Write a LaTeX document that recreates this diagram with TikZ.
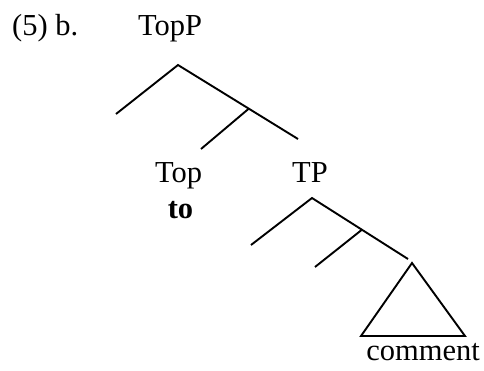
\documentclass[tikz,border=0pt]{standalone}
\usepackage{fontspec}
\setmainfont{Liberation Serif}
\usepackage{tikz}
\usetikzlibrary{calc,positioning}
\tikzstyle{branch} = [line width=1.9pt]
\tikzstyle{cat} = [inner sep=0pt, anchor=base, font=\fontsize{30.5}{36}\selectfont]
\tikzstyle{word} = [cat, font=\fontsize{30.5}{36}\selectfont\bfseries]

\begin{document}
\begin{tikzpicture}[x=1pt,y=-1pt]
\useasboundingbox (0,0) rectangle (484,370);

\node(ExNum)		[cat, anchor=base west] at (12,35)
								{(5) b.};
\node(TopP)			[cat] at (170,35)
								{TopP};
\node(Top)			[cat] at (178.5,182)
								{Top};
\node(TopWord)		[word] at (180.5,218)
								{to};
\node(TP)			[cat] at (310,182)
								{TP};
\node(Comment)		[cat] at (423,360)
								{comment};

% TopP branches
\coordinate(TopPRoot)	at (178,65);
\coordinate(TopPSpec)	at (116,114);
\coordinate(TopPBar)	at (298,139);
\coordinate(TopPJoin)	at ($(TopPRoot)!0.59!(TopPBar)$);
\coordinate(TopHead)	at (201,149);

% TP branches
\coordinate(TPRoot)		at (312,198);
\coordinate(TPSpec)		at (251,245);
\coordinate(TPBar)		at (408,259);
\coordinate(TPJoin)		at ($(TPRoot)!0.52!(TPBar)$);
\coordinate(THead)		at (315,267);

% comment triangle
\coordinate(TriTop)		at (412,263);
\coordinate(TriLeft)	at (361,336);
\coordinate(TriRight)	at (465,336);

\draw [branch]	(TopPSpec) -- (TopPRoot) -- (TopPBar);
\draw [branch]	(TopPJoin) -- (TopHead);

\draw [branch]	(TPSpec) -- (TPRoot) -- (TPBar);
\draw [branch]	(TPJoin) -- (THead);

\draw [branch]	(TriTop) -- (TriLeft) -- (TriRight) -- cycle;

\end{tikzpicture}
\end{document}
